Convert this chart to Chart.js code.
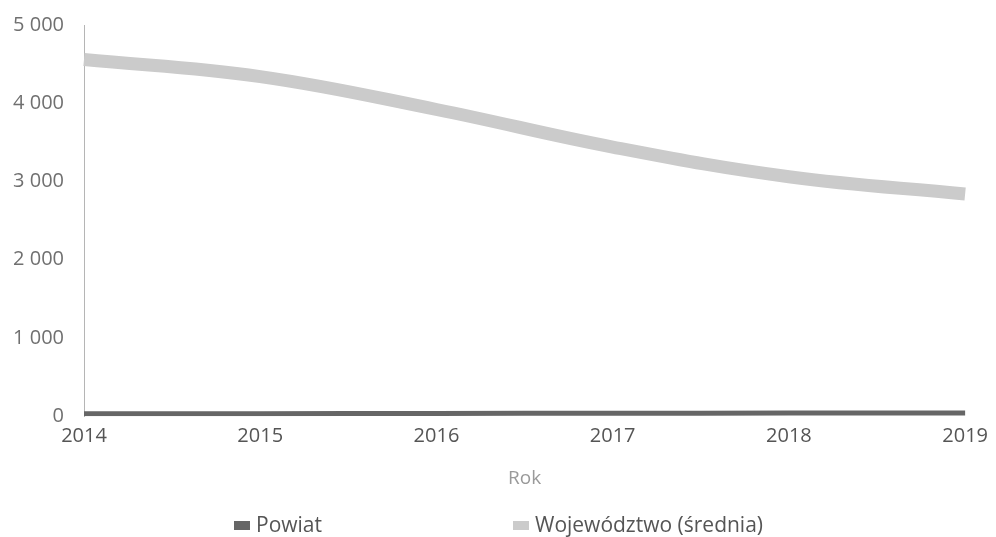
<!DOCTYPE html>
<html>
<head>
<meta charset="utf-8">
<script src="https://cdn.jsdelivr.net/npm/chart.js@4"></script>
<style>
  html, body { margin: 0; padding: 0; background: #fff; }
  #wrap { position: relative; width: 996px; height: 537px; }
  #legend { position: absolute; left: 0; top: 510px; width: 996px; height: 27px;
            font-family: "Open Sans", sans-serif; font-size: 21px; color: #555; }
  .item { position: absolute; top: 0; white-space: nowrap; }
  .box { display: inline-block; width: 16px; height: 9px; margin-right: 6px; vertical-align: 2px; }
</style>
</head>
<body>
<div id="wrap">
  <canvas id="chart" width="996" height="537"></canvas>
  <div id="legend"></div>
</div>
<script>
// data
const years = ['2014', '2015', '2016', '2017', '2018', '2019'];
const powiat = [30, 32, 35, 38, 40, 42];
const wojewodztwo = [4560, 4340, 3920, 3440, 3060, 2840];
const seriesNames = ['Powiat', 'Województwo (średnia)'];
const yTicks = [0, 1000, 2000, 3000, 4000, 5000];

const colors = ['#666666', '#cbcbcb'];

const fmt = v => String(v).replace(/\B(?=(\d{3})+(?!\d))/g, ' ');

const ctx = document.getElementById('chart').getContext('2d');
const chart = new Chart(ctx, {
    type: 'line',
    data: {
        labels: years,
        datasets: [
            { label: seriesNames[0], data: powiat, borderColor: colors[0], backgroundColor: colors[0],
              borderWidth: 5, pointRadius: 0, tension: 0.4 },
            { label: seriesNames[1], data: wojewodztwo, borderColor: colors[1], backgroundColor: colors[1],
              borderWidth: 13, pointRadius: 0, tension: 0.4 }
        ]
    },
    options: {
        responsive: false,
        animation: false,
        layout: { padding: { left: 0, right: 26, top: 25, bottom: 43 } },
        plugins: { legend: { display: false }, tooltip: { enabled: false } },
        scales: {
            x: {
                offset: false,
                grid: { display: false, drawTicks: false },
                border: { display: false },
                ticks: { color: '#555', font: { family: 'Open Sans', size: 20 }, padding: 8, maxRotation: 0 },
                title: { display: true, text: 'Rok', color: '#9a9a9a', font: { family: 'Open Sans', size: 19 }, padding: { top: 11 } }
            },
            y: {
                min: 0, max: 5000,
                afterBuildTicks: axis => { axis.ticks = yTicks.map(v => ({ value: v })); },
                afterFit: axis => { axis.width = 84; axis.paddingTop = 0; axis.paddingBottom = 0; },
                grid: { display: false, drawTicks: false },
                border: { display: true, color: '#b5b5b5', dash: [1, 2], width: 1 },
                ticks: { color: '#707070', font: { family: 'Open Sans', size: 20 }, padding: 20, callback: v => fmt(v) }
            }
        }
    }
});

// legend below, items spread like in the original
const legend = document.getElementById('legend');
const legendX = [234, 513];
seriesNames.forEach((name, i) => {
    const el = document.createElement('span');
    el.className = 'item';
    el.style.left = legendX[i] + 'px';
    el.innerHTML = '<span class="box" style="background:' + colors[i] + '"></span>' + name;
    legend.appendChild(el);
});
</script>
</body>
</html>
